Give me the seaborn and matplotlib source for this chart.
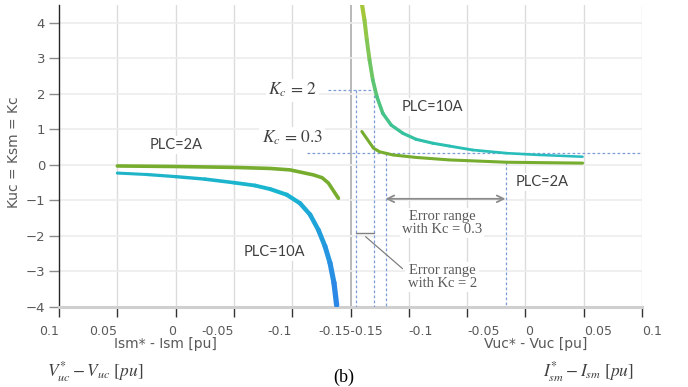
import numpy as np
import matplotlib
matplotlib.use("Agg")
import matplotlib.pyplot as plt
import seaborn as sns
from matplotlib.collections import LineCollection
from matplotlib.colors import LinearSegmentedColormap

# left half of the x axis: Ism* - Ism [pu], runs 0.1 -> -0.15
ism_2a_x = [0.05, 0.0, -0.05, -0.081, -0.098, -0.118, -0.1256, -0.131, -0.1396]
ism_2a_y = [-0.03, -0.045, -0.07, -0.10, -0.14, -0.28, -0.36, -0.51, -0.94]
ism_10a_x = [0.05, 0.025, 0.0, -0.025, -0.05, -0.068, -0.081, -0.0953, -0.1067,
             -0.1153, -0.1224, -0.1281, -0.1324, -0.1358, -0.1381]
ism_10a_y = [-0.23, -0.27, -0.33, -0.40, -0.50, -0.58, -0.68, -0.84, -1.08,
             -1.40, -1.83, -2.29, -2.76, -3.32, -3.95]

# right half: Vuc* - Vuc [pu], runs -0.15 -> 0.1
vuc_10a_x = [-0.1403, -0.1380, -0.1360, -0.1337, -0.1309, -0.1274, -0.1223, -0.1151,
             -0.1051, -0.0937, -0.0794, -0.0651, -0.0454, -0.0162, 0.0121, 0.049]
vuc_10a_y = [4.54, 4.07, 3.51, 2.95, 2.39, 1.92, 1.45, 1.12,
             0.89, 0.72, 0.61, 0.53, 0.42, 0.33, 0.28, 0.23]
vuc_2a_x = [-0.1403, -0.1352, -0.1303, -0.1251, -0.1137, -0.0937, -0.0651, -0.0162, 0.049]
vuc_2a_y = [0.94, 0.70, 0.47, 0.37, 0.28, 0.21, 0.14, 0.075, 0.05]

left_ticks = [0.1, 0.05, 0, -0.05, -0.1]
right_ticks = [-0.1, -0.05, 0, 0.05, 0.1]
y_ticks = [-4, -3, -2, -1, 0, 1, 2, 3, 4]

kc_hi, kc_lo = 2.1, 0.33
err_kc2 = [-0.1449, -0.1303]
err_kc03 = [-0.120, -0.0171]


def L(v):
    return (0.1 - np.asarray(v)) / 0.05


def R(v):
    return 5 + (np.asarray(v) + 0.15) / 0.05


def grad_line(ax, x, y, colors, w0, w1):
    pts = np.column_stack([x, y])
    segs = np.stack([pts[:-1], pts[1:]], axis=1)
    cmap = LinearSegmentedColormap.from_list("g", colors)
    t = np.linspace(0, 1, len(segs))
    lc = LineCollection(segs, colors=cmap(t), linewidths=w0 + (w1 - w0) * t,
                        capstyle="round", joinstyle="round", zorder=4)
    ax.add_collection(lc)


sns.set_style("white")
plt.rcParams["font.family"] = ["DejaVu Sans"]
plt.rcParams["mathtext.fontset"] = "stix"

fig = plt.figure(figsize=(6.88, 3.87), dpi=100)
ax = fig.add_axes([0.0858, 0.2067, 0.8474, 0.7803])

# grid
for p in list(L(left_ticks[1:])) + list(R(right_ticks)):
    ax.axvline(p, color="#dcdcdc", lw=1, zorder=0)
ax.axvline(5, color="#a6a6a6", lw=1.1, zorder=0)
for yv in y_ticks:
    ax.axhline(yv, color="#ececec", lw=1.2, zorder=0)

green = "#76ad2f"
sns.lineplot(x=L(ism_2a_x), y=ism_2a_y, sort=False, color=green, lw=2.6, ax=ax, zorder=4)
sns.lineplot(x=R(vuc_2a_x), y=vuc_2a_y, sort=False, color=green, lw=2.2, ax=ax, zorder=4)
grad_line(ax, L(ism_10a_x), ism_10a_y, ["#1fb4c8", "#18b5d1", "#2b88e6"], 2.2, 3.8)
grad_line(ax, R(vuc_10a_x), vuc_10a_y, ["#a5c83a", "#4fc47c", "#2cc0ad", "#27bcbf"], 3.0, 1.8)

# guide lines
dash = dict(color="#7d9bd6", lw=0.9, ls=(0, (2.2, 1.8)), zorder=3)
ax.plot(R([-0.1695, err_kc2[1]]), [kc_hi, kc_hi], **dash)
ax.plot(R([-0.1875, 0.1]), [kc_lo, kc_lo], **dash)
for xv in err_kc2:
    ax.plot(R([xv, xv]), [kc_hi, -4], **dash)
ax.plot(R([err_kc03[0], err_kc03[0]]), [kc_lo, -4], **dash)
ax.plot(R([err_kc03[1], err_kc03[1]]), [0.08, -4], **dash)

ax.plot(R(err_kc2), [-1.91, -1.91], color="#808080", lw=1, zorder=3)
ax.plot(R([-0.1371, -0.1054]), [-2.02, -2.92], color="#808080", lw=0.9, zorder=3)
ax.annotate("", xy=(R(err_kc03[0]), -0.955), xytext=(R(err_kc03[1]), -0.955),
            arrowprops=dict(arrowstyle="<->", color="#8c8c8c", lw=1.3,
                            shrinkA=0, shrinkB=0, mutation_scale=12))

box = dict(facecolor="white", edgecolor="none", pad=1.5)
lbl = dict(ha="center", va="center", color="#404040", family="Lato", fontsize=10.5, bbox=box, zorder=5)
ax.text(L(0.0), 0.56, "PLC=2A", **lbl)
ax.text(L(-0.085), -2.44, "PLC=10A", **lbl)
ax.text(R(-0.08), 1.63, "PLC=10A", **lbl)
ax.text(R(0.014), -0.48, "PLC=2A", **lbl)

mth = dict(ha="center", va="center", color="#404040", fontsize=12.5, bbox=box, zorder=5)
ax.text(L(-0.1), kc_hi, r"$K_c\,=\,2$", **mth)
ax.text(L(-0.1), 0.76, r"$K_c\,=\,0.3$", **mth)

err = dict(ha="center", va="center", color="#595959", family="Liberation Serif",
           fontsize=10.5, linespacing=1.05, bbox=box, zorder=5)
ax.text(R(-0.0715), -1.63, "Error range\nwith Kc = 0.3", **err)
ax.text(R(-0.0715), -3.15, "Error range\nwith Kc = 2", **err)

# axes
ax.set_xlim(0, 10)
ax.set_ylim(-4, 4.5)
tick_pos = list(L(left_ticks)) + [5] + list(R(right_ticks))
tick_lab = ["0.1", "0.05", "0", "-0.05", "-0.1", "-0.15-0.15", "-0.1", "-0.05", "0", "0.05", "0.1"]
ax.set_xticks(tick_pos)
ax.set_xticklabels(tick_lab)
for i, t in enumerate(ax.get_xticklabels()):
    t.set_ha("right" if i < 5 else ("center" if i == 5 else "left"))
ax.set_yticks(y_ticks)
ax.tick_params(axis="x", direction="out", length=7, width=1, color="#333333",
               labelsize=9, labelcolor="#595959", pad=6, bottom=True)
ax.tick_params(axis="y", direction="out", length=7, width=1, color="#8c8c8c",
               labelsize=9.5, labelcolor="#595959", pad=3, left=True)
for s in ["top", "right"]:
    ax.spines[s].set_visible(False)
ax.spines["left"].set_color("#262626")
ax.spines["left"].set_linewidth(1)
ax.spines["bottom"].set_color("#cfcfcf")
ax.spines["bottom"].set_linewidth(2.2)

fig.text(0.021, 0.607, "Kuc = Ksm = Kc", rotation=90, ha="center", va="center",
         color="#595959", fontsize=10)
fig.text(0.241, 0.111, "Ism* - Ism [pu]", ha="center", va="center", color="#595959", fontsize=10)
fig.text(0.778, 0.111, "Vuc* - Vuc [pu]", ha="center", va="center", color="#595959", fontsize=10)
fig.text(0.138, 0.039, r"$V_{uc}^{*} - V_{uc}\ [pu]$", ha="center", va="center",
         color="#404040", fontsize=12.5)
fig.text(0.855, 0.039, r"$I_{sm}^{*} - I_{sm}\ [pu]$", ha="center", va="center",
         color="#404040", fontsize=12.5)
fig.text(0.5, 0.026, "(b)", ha="center", va="center", color="black",
         family="Liberation Serif", fontsize=13)

fig.savefig("out.png", dpi=100)
